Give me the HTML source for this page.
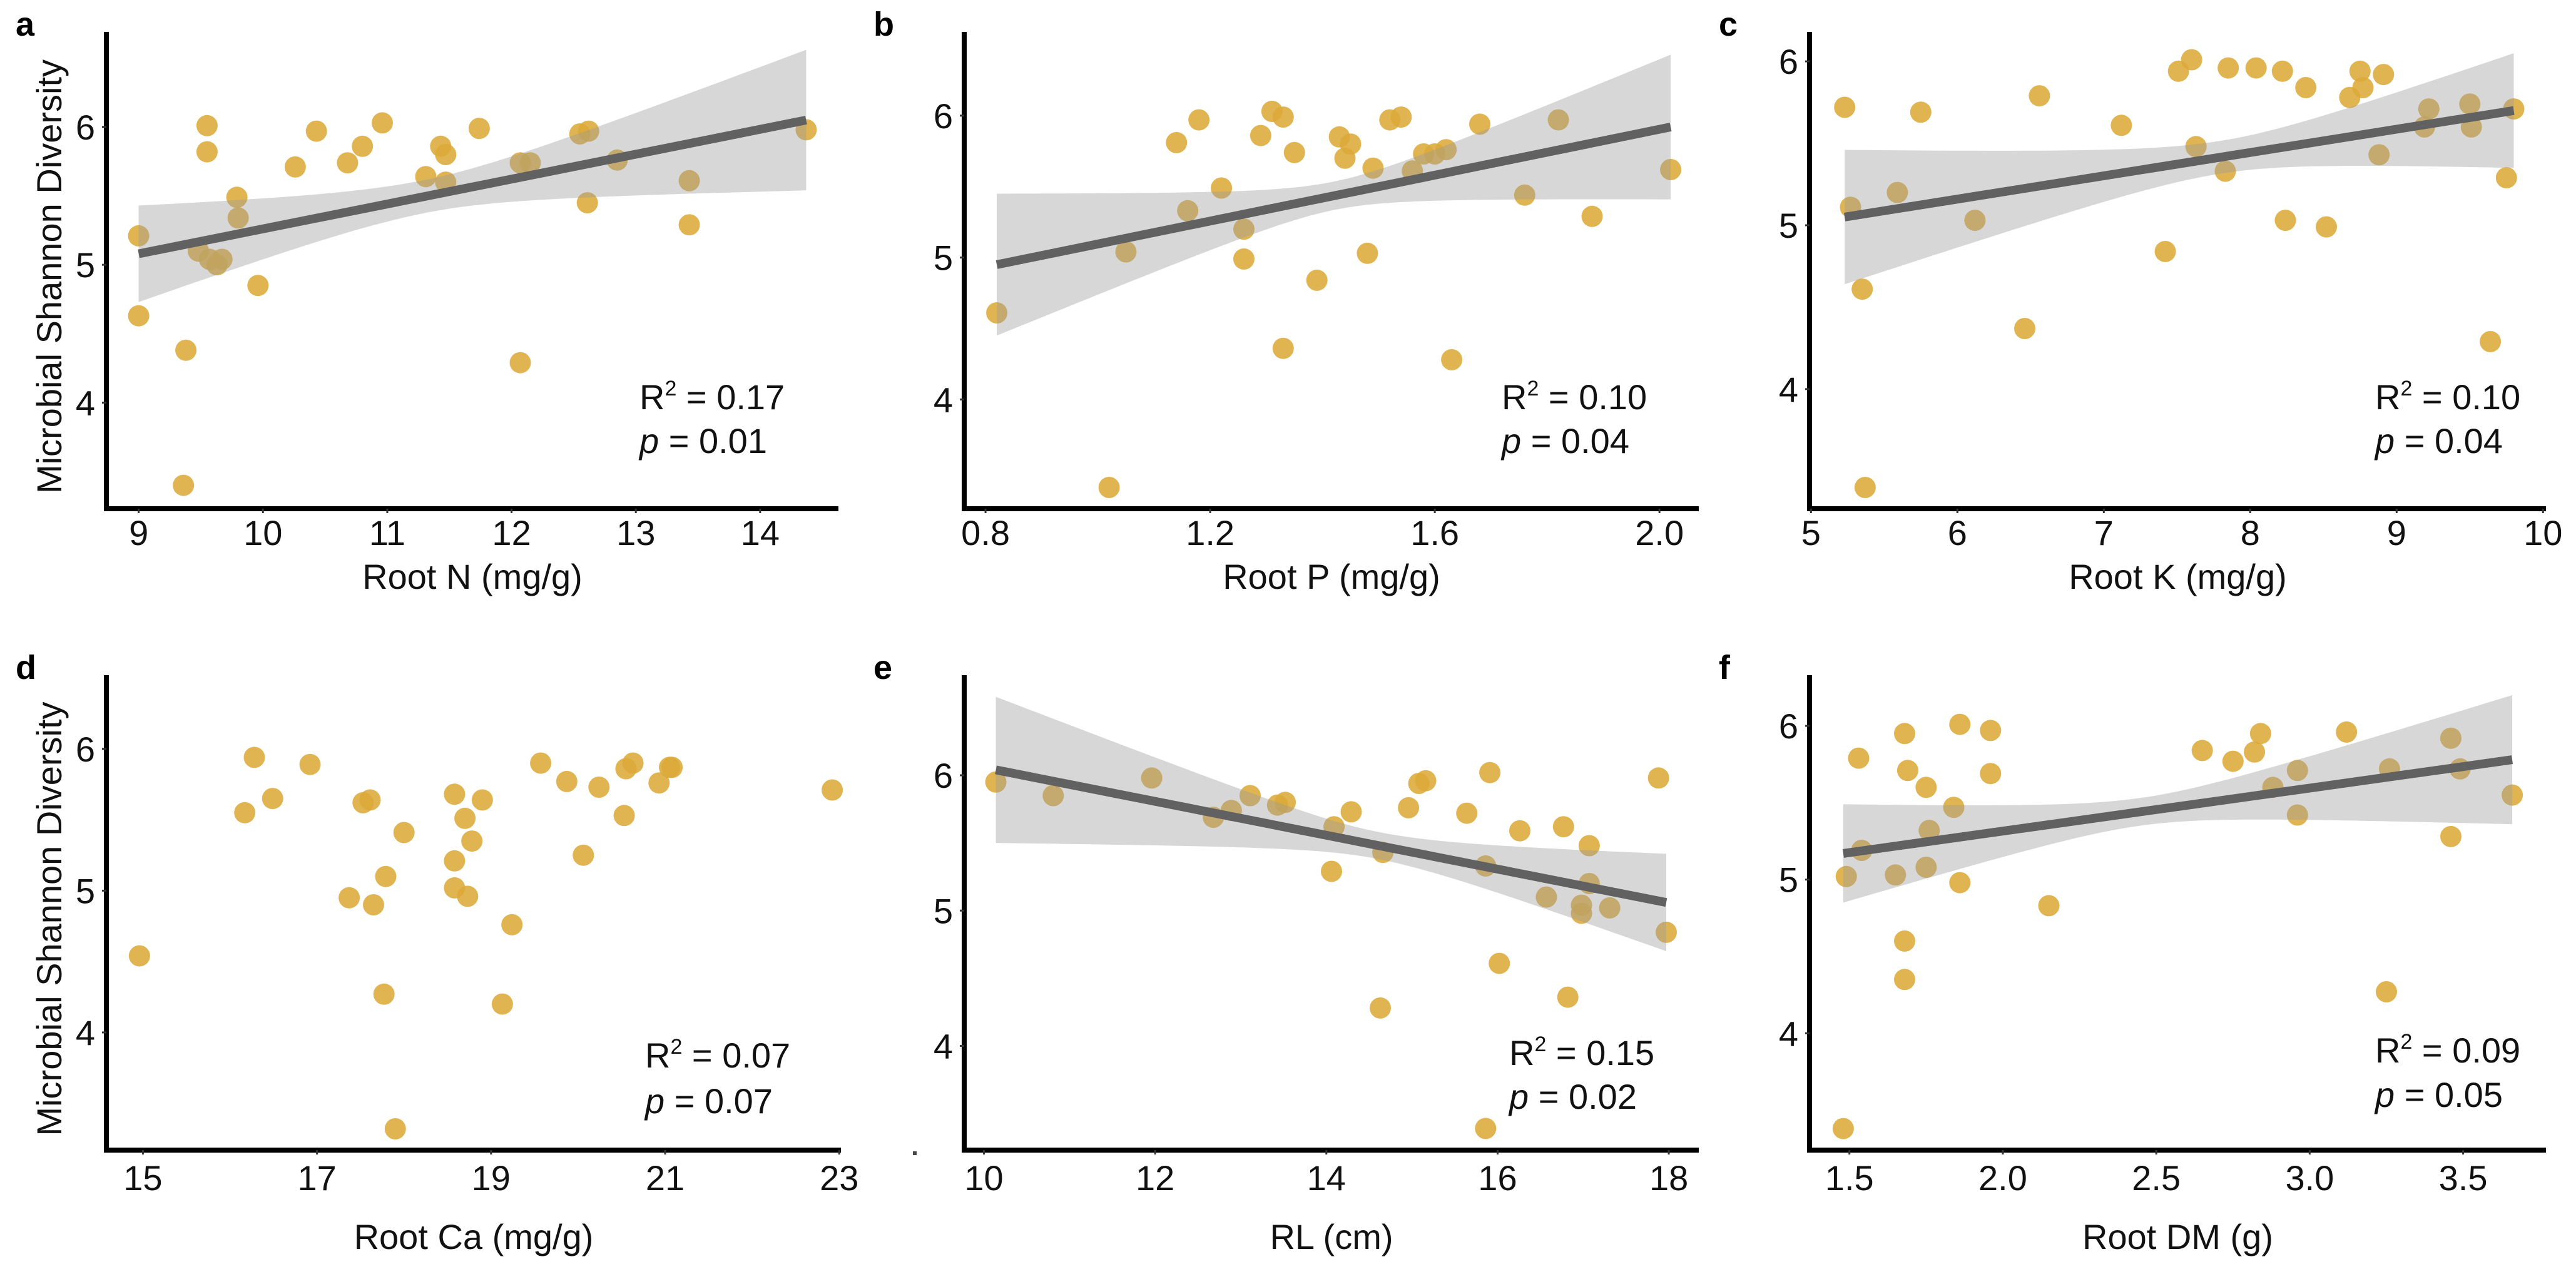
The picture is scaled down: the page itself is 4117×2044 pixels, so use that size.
<!DOCTYPE html>
<html><head><meta charset="utf-8"><style>
html,body{margin:0;padding:0;background:#fff;}
svg{display:block;font-family:"Liberation Sans",Arial,sans-serif;}
</style></head><body>
<svg id="fig" width="4117" height="2044" viewBox="0 0 4117 2044" xmlns="http://www.w3.org/2000/svg"></svg>
<script>
// ---- data ----
const aX=[9.0,9.0,9.38,9.36,9.55,9.55,9.48,9.57,9.63,9.67,9.79,9.80,9.96,10.26,10.43,10.68,10.80,10.96,11.31,11.43,11.47,11.47,11.74,12.07,12.15,12.07,12.55,12.62,12.61,12.85,13.43,13.43,14.37];
const aY=[5.21,4.63,4.38,3.40,6.01,5.82,5.10,5.04,5.00,5.04,5.49,5.34,4.85,5.71,5.97,5.74,5.86,6.03,5.64,5.86,5.80,5.60,5.99,5.74,5.74,4.29,5.95,5.97,5.45,5.76,5.61,5.29,5.98];
const bX=[0.82,1.02,1.05,1.14,1.16,1.18,1.22,1.26,1.26,1.29,1.31,1.33,1.33,1.35,1.39,1.43,1.44,1.45,1.48,1.49,1.52,1.54,1.56,1.58,1.60,1.62,1.63,1.68,1.76,1.82,1.88,2.02];
const bY=[4.61,3.38,5.04,5.81,5.33,5.97,5.49,5.20,4.99,5.86,6.03,5.99,4.36,5.74,4.84,5.85,5.70,5.80,5.03,5.63,5.97,5.99,5.61,5.73,5.73,5.76,4.28,5.94,5.44,5.97,5.29,5.62];
const cX=[5.23,5.27,5.35,5.37,5.59,5.75,6.12,6.46,6.56,7.12,7.42,7.51,7.60,7.63,7.83,7.85,8.04,8.22,8.24,8.38,8.52,8.68,8.75,8.77,8.88,8.91,9.22,9.19,9.50,9.51,9.64,9.75,9.80];
const cY=[5.72,5.11,4.61,3.40,5.20,5.69,5.03,4.37,5.79,5.61,4.84,5.94,6.01,5.48,5.33,5.96,5.96,5.94,5.03,5.84,4.99,5.78,5.94,5.84,5.43,5.92,5.71,5.60,5.74,5.60,4.29,5.29,5.71];
const dX=[14.96,16.17,16.28,16.49,16.92,17.37,17.53,17.61,17.65,17.77,17.79,17.90,18.00,18.58,18.58,18.58,18.70,18.73,18.78,18.90,19.13,19.24,19.57,19.87,20.06,20.24,20.53,20.55,20.63,20.93,21.05,21.08,22.92];
const dY=[4.54,5.55,5.94,5.65,5.89,4.95,5.62,5.64,4.90,4.27,5.10,3.32,5.41,5.68,5.21,5.02,5.51,4.96,5.35,5.64,4.20,4.76,5.90,5.77,5.25,5.73,5.53,5.86,5.90,5.76,5.87,5.87,5.71];
const eX=[10.14,10.81,11.96,12.68,12.89,13.11,13.43,13.52,14.06,14.09,14.29,14.66,14.63,14.96,15.08,15.16,15.64,15.86,15.91,16.02,16.26,16.57,16.77,16.82,16.98,16.98,17.07,17.07,17.31,17.88,17.97,15.86];
const eY=[5.95,5.85,5.98,5.69,5.74,5.85,5.78,5.80,5.29,5.62,5.73,5.43,4.28,5.76,5.94,5.96,5.72,5.33,6.02,4.61,5.59,5.10,5.62,4.36,5.04,4.98,5.48,5.20,5.02,5.98,4.84,3.39];
const fX=[1.48,1.49,1.53,1.54,1.65,1.68,1.68,1.68,1.69,1.75,1.75,1.76,1.84,1.86,1.86,1.96,1.96,2.15,2.65,2.75,2.82,2.84,2.88,2.96,2.96,3.12,3.25,3.26,3.46,3.46,3.49,3.66];
const fY=[3.38,5.02,5.79,5.19,5.03,5.95,4.60,4.35,5.71,5.60,5.08,5.32,5.47,4.98,6.01,5.97,5.69,4.83,5.84,5.77,5.83,5.95,5.60,5.71,5.42,5.96,4.27,5.72,5.92,5.28,5.72,5.55];
// fit lines: [x0, x1, y0, y1] and band: [halfLeft, halfRight, halfMin, xAtMin]
const aFit=[9.0,14.37,5.08,6.05];   const aBand=[0.35,0.51,0.12,11.3];
const bFit=[0.82,2.02,4.95,5.92];   const bBand=[0.50,0.51,0.10,1.42];
const cFit=[5.23,9.80,5.05,5.70];   const cBand=[0.41,0.35,0.10,7.8];
const eFit=[10.14,17.97,6.04,5.06]; const eBand=[0.54,0.36,0.10,14.6];
const fFit=[1.48,3.66,5.17,5.78];   const fBand=[0.32,0.42,0.09,2.45];
// tick labels
const aTicks=[9,10,11,12,13,14]; const aTickLabels=["9","10","11","12","13","14"];
const bTicks=[0.8,1.2,1.6,2.0];  const bTickLabels=["0.8","1.2","1.6","2.0"];
const cTicks=[5,6,7,8,9,10];     const cTickLabels=["5","6","7","8","9","10"];
const dTicks=[15,17,19,21,23];   const dTickLabels=["15","17","19","21","23"];
const eTicks=[10,12,14,16,18];   const eTickLabels=["10","12","14","16","18"];
const fTicks=[1.5,2.0,2.5,3.0,3.5]; const fTickLabels=["1.5","2.0","2.5","3.0","3.5"];
const yTicks=[4,5,6]; const yTickLabels=["4","5","6"];
const r2Labels=["0.17","0.10","0.10","0.07","0.15","0.09"];
const pLabels=["0.01","0.04","0.04","0.07","0.02","0.05"];

const panels=[
 {id:"a",x:aX,y:aY,fit:aFit,band:aBand,ticks:aTicks,tl:aTickLabels,xl:"Root N (mg/g)",xd:[8.74,14.63],yd:[3.23,6.69],px:[170,1340],py:[813,51],ann:[1022,654,724],ylab:true,k:0},
 {id:"b",x:bX,y:bY,fit:bFit,band:bBand,ticks:bTicks,tl:bTickLabels,xl:"Root P (mg/g)",xd:[0.762,2.07],yd:[3.23,6.59],px:[1541,2715],py:[813,51],ann:[2400,654,724],k:1},
 {id:"c",x:cX,y:cY,fit:cFit,band:cBand,ticks:cTicks,tl:cTickLabels,xl:"Root K (mg/g)",xd:[4.99,10.02],yd:[3.27,6.18],px:[2892,4069],py:[813,51],ann:[3796,654,724],k:2},
 {id:"d",x:dX,y:dY,fit:null,band:null,ticks:dTicks,tl:dTickLabels,xl:"Root Ca (mg/g)",xd:[14.58,23.02],yd:[3.17,6.52],px:[170,1344],py:[1838,1079],ann:[1031,1706,1779],ylab:true,k:3},
 {id:"e",x:eX,y:eY,fit:eFit,band:eBand,ticks:eTicks,tl:eTickLabels,xl:"RL (cm)",xd:[9.77,18.35],yd:[3.23,6.74],px:[1541,2715],py:[1838,1079],ann:[2412,1702,1772],k:4},
 {id:"f",x:fX,y:fY,fit:fFit,band:fBand,ticks:fTicks,tl:fTickLabels,xl:"Root DM (g)",xd:[1.37,3.77],yd:[3.24,6.33],px:[2892,4069],py:[1838,1079],ann:[3796,1698,1769],k:5}
];
const NS="http://www.w3.org/2000/svg";
const svg=document.getElementById('fig');
function mk(tag,attrs,parent){const e=document.createElementNS(NS,tag);for(const k in attrs)e.setAttribute(k,attrs[k]);(parent||svg).appendChild(e);return e;}
panels.forEach(P=>{
  const g=mk('g',{});
  
  
  const sx=v=>P.px[0]+(v-P.xd[0])/(P.xd[1]-P.xd[0])*(P.px[1]-P.px[0]);
  const sy=v=>P.py[0]+(v-P.yd[0])/(P.yd[1]-P.yd[0])*(P.py[1]-P.py[0]);
  P.x.forEach((xv,i)=>{
    const c=mk('circle',{cx:sx(xv).toFixed(1),cy:sy(P.y[i]).toFixed(1),r:17,fill:'#dcaa38','fill-opacity':0.88},g);
    
    
  });
  if(P.fit){
    const [x0,x1,y0,y1]=P.fit,[hL,hR,h0,m]=P.band;
    const kL=(hL*hL-h0*h0)/Math.pow(m-x0,2),kR=(hR*hR-h0*h0)/Math.pow(x1-m,2);
    const up=[],lo=[];
    for(let i=0;i<=60;i++){const x=x0+(x1-x0)*i/60;const c=y0+(y1-y0)*(x-x0)/(x1-x0);
      const kk=x<m?kL:kR;const h=Math.sqrt(h0*h0+kk*(x-m)*(x-m));
      up.push(sx(x).toFixed(1)+','+sy(c+h).toFixed(1));lo.unshift(sx(x).toFixed(1)+','+sy(c-h).toFixed(1));}
    const band=mk('polygon',{points:up.concat(lo).join(' '),fill:'#9a9a9a','fill-opacity':0.4},g);
    
    
    const ln=mk('line',{x1:sx(x0),y1:sy(y0),x2:sx(x1),y2:sy(y1),stroke:'#616161','stroke-width':14},g);
    
    
  }
  const ya=mk('line',{x1:P.px[0],y1:P.py[1],x2:P.px[0],y2:P.py[0]+4,stroke:'#000','stroke-width':8},g);
  
  
  const xa=mk('line',{x1:P.px[0]-4,y1:P.py[0],x2:P.px[1],y2:P.py[0],stroke:'#000','stroke-width':8},g);
  
  
  P.ticks.forEach((t,i)=>{
    mk('line',{x1:sx(t),y1:P.py[0],x2:sx(t),y2:P.py[0]+7,stroke:'#333','stroke-width':3},g);
    const tx=mk('text',{x:sx(t),y:P.py[0]+(P.k<3?58:64),'font-size':56,'text-anchor':'middle',fill:'#111'},g);
    tx.textContent=P.tl[i];
    
    
  });
  yTicks.forEach((t,i)=>{
    mk('line',{x1:P.px[0]-7,y1:sy(t),x2:P.px[0],y2:sy(t),stroke:'#333','stroke-width':3},g);
    const tx=mk('text',{x:P.px[0]-18,y:sy(t)+20,'font-size':56,'text-anchor':'end',fill:'#111'},g);
    tx.textContent=yTickLabels[i];
    
    
  });
  const xt=mk('text',{x:(P.px[0]+P.px[1])/2,y:P.py[0]+(P.k<3?128:158),'font-size':56,'text-anchor':'middle',fill:'#111'},g);
  xt.textContent=P.xl;
  
  
  const lt=mk('text',{x:P.px[0]-145,y:P.py[1]+6,'font-size':54,'font-weight':'bold',fill:'#000'},g);
  lt.textContent=P.id;
  
  
  if(P.ylab){
    const cy=(P.py[0]+P.py[1])/2+10;
    const yt=mk('text',{x:0,y:0,'font-size':56,'text-anchor':'middle',fill:'#111',transform:`translate(${P.px[0]-72},${cy}) rotate(-90)`},g);
    yt.textContent='Microbial Shannon Diversity';
    
    
  }
  const r=mk('text',{x:P.ann[0],y:P.ann[1],'font-size':56,fill:'#111'},g);
  r.innerHTML='R<tspan font-size="34" dy="-22">2</tspan><tspan dy="22"> = '+r2Labels[P.k]+'</tspan>';
  
  
  const p=mk('text',{x:P.ann[0],y:P.ann[2],'font-size':56,fill:'#111'},g);
  p.innerHTML='<tspan font-style="italic">p</tspan> = '+pLabels[P.k];
  
  
});
const dot=mk('rect',{x:1459,y:1840,width:6,height:6,fill:'#444'});


</script>
</body></html>
